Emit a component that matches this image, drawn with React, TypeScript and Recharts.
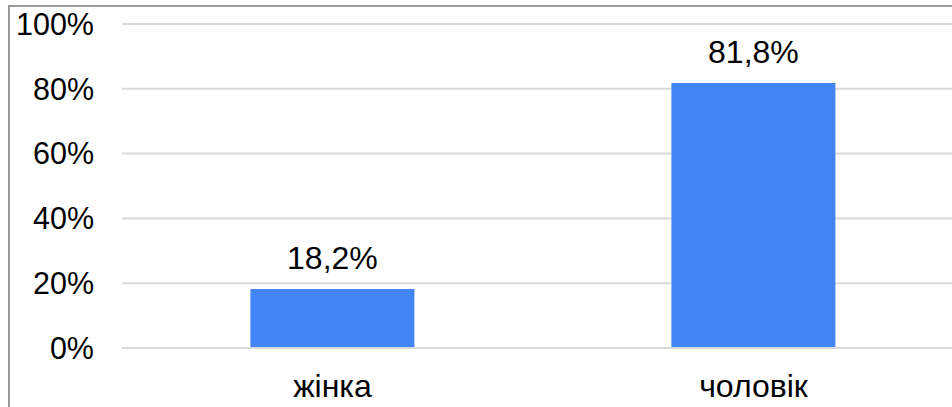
import { Bar, BarChart, CartesianGrid, LabelList, XAxis, YAxis } from "recharts";

const categories = ["жінка", "чоловік"];
const shares = [18.2, 81.8];
const yTicks = [0, 20, 40, 60, 80, 100];
const edgeTicks = [0, 1, 2];

const data = categories.map((name, i) => ({ name, share: shares[i] }));

const GRID = "#d9d9d9";
const FONT = "'Liberation Sans', Arial, sans-serif";

const pct = (v: number) => `${v}%`;
const pctComma = (v: number) => `${v.toFixed(1).replace(".", ",")}%`;

export default function App() {
  return (
    <div
      style={{
        position: "fixed",
        left: 0,
        top: 0,
        width: 952,
        height: 407,
        overflow: "hidden",
        background: "#fff",
        fontFamily: FONT,
      }}
    >
      {/* frame of the original chart, only top/left edges visible */}
      <div
        style={{
          position: "absolute",
          left: 8,
          top: 5,
          width: 1000,
          height: 450,
          border: "2px solid #999",
          boxSizing: "border-box",
        }}
      />
      <div style={{ position: "absolute", left: 0, top: 0 }}>
        <BarChart
          width={980}
          height={407}
          data={data}
          margin={{ top: 24, right: 16, left: 0, bottom: 0 }}
          barCategoryGap="30.5%"
        >
          <CartesianGrid vertical={false} stroke={GRID} strokeWidth={2} />
          <XAxis
            xAxisId="edges"
            type="number"
            domain={[0, 2]}
            allowDataOverflow
            ticks={edgeTicks}
            height={0}
            axisLine={false}
            tick={false}
            tickSize={9}
            tickLine={{ stroke: GRID, strokeWidth: 2 }}
          />
          <XAxis
            dataKey="name"
            height={59}
            axisLine={{ stroke: GRID, strokeWidth: 2 }}
            tickLine={false}
            tickSize={0}
            tickMargin={26}
            tick={{ fill: "#000", fontSize: 32 }}
          />
          <YAxis
            domain={[0, 100]}
            ticks={yTicks}
            tickFormatter={pct}
            width={122}
            axisLine={false}
            tickLine={false}
            tickSize={0}
            tickMargin={28}
            tick={{ fill: "#000", fontSize: 30.5 }}
          />
          <Bar dataKey="share" fill="#4285F4" isAnimationActive={false}>
            <LabelList
              dataKey="share"
              position="top"
              offset={20}
              formatter={pctComma}
              fill="#000"
              fontSize={32}
            />
          </Bar>
        </BarChart>
      </div>
    </div>
  );
}
